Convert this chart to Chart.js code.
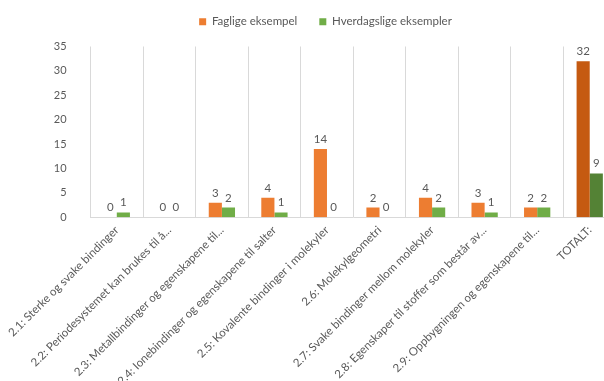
<!DOCTYPE html>
<html>
<head>
<meta charset="utf-8">
<script src="https://cdn.jsdelivr.net/npm/chart.js@4.4.1/dist/chart.umd.min.js"></script>
<style>
  html, body { margin: 0; padding: 0; background: #fff; overflow: hidden; }
</style>
</head>
<body>
<canvas id="myChart" width="622" height="394"></canvas>
<script>
const categories = [
  '2.1: Sterke og svake bindinger',
  '2.2: Periodesystemet kan brukes til å...',
  '2.3: Metallbindinger og egenskapene til...',
  '2.4: Ionebindinger og egenskapene til salter',
  '2.5: Kovalente bindinger i molekyler',
  '2.6: Molekylgeometri',
  '2.7: Svake bindinger mellom molekyler',
  '2.8: Egenskaper til stoffer som består av...',
  '2.9: Oppbygningen og egenskapene til...',
  'TOTALT:'
];
const faglige = [0, 0, 3, 4, 14, 2, 4, 3, 2, 32];
const hverdagslige = [1, 0, 2, 1, 0, 0, 2, 1, 2, 9];
const yMax = 35;
const yStep = 5;

const FONT = 'Lato';
const GREY = '#595959';

// last column (the total) gets a darker shade
function shades(base, dark) {
  return categories.map((c, i) => i === categories.length - 1 ? dark : base);
}

// numbers above each bar
const valueLabels = {
  id: 'valueLabels',
  afterDatasetsDraw(chart) {
    let ctx = chart.ctx;
    ctx.save();
    ctx.font = '11.5px ' + FONT;
    ctx.fillStyle = GREY;
    ctx.textAlign = 'center';
    ctx.textBaseline = 'bottom';
    chart.data.datasets.forEach((ds, i) => {
      chart.getDatasetMeta(i).data.forEach((bar, j) => {
        ctx.fillText(ds.data[j], bar.x, bar.y - 4);
      });
    });
    ctx.restore();
  }
};

// more room under the legend
const legendGap = {
  id: 'legendGap',
  beforeInit(chart) {
    const fit = chart.legend.fit;
    chart.legend.fit = function () {
      fit.bind(chart.legend)();
      this.height += 9;
    };
  }
};

let ctx = document.getElementById('myChart').getContext('2d');

let myChart = new Chart(ctx, {
  type: 'bar',
  data: {
    labels: categories,
    datasets: [{
      label: 'Faglige eksempel',
      data: faglige,
      backgroundColor: shades('#ED7D31', '#C55A11'),
      barPercentage: 1,
      categoryPercentage: 0.5
    }, {
      label: 'Hverdagslige eksempler',
      data: hverdagslige,
      backgroundColor: shades('#70AD47', '#548235'),
      barPercentage: 1,
      categoryPercentage: 0.5
    }]
  },
  options: {
    responsive: false,
    animation: false,
    layout: { padding: { left: 35, right: 6, top: -6 } },
    plugins: {
      tooltip: { enabled: false },
      legend: {
        position: 'top',
        labels: {
          boxWidth: 7,
          boxHeight: 7,
          color: GREY,
          font: { family: FONT, size: 11.5 },
          padding: 22,
          generateLabels(chart) {
            return chart.data.datasets.map((ds, i) => ({
              text: ds.label,
              fillStyle: ds.backgroundColor[0],
              strokeStyle: ds.backgroundColor[0],
              lineWidth: 0,
              fontColor: GREY,
              datasetIndex: i
            }));
          }
        }
      }
    },
    scales: {
      x: {
        grid: { offset: true, color: '#d9d9d9', drawTicks: false },
        border: { color: '#d9d9d9' },
        ticks: {
          color: GREY,
          font: { family: FONT, size: 11.5 },
          minRotation: 45,
          maxRotation: 45,
          autoSkip: false,
          padding: 6
        }
      },
      y: {
        min: 0,
        max: yMax,
        grid: { display: false },
        border: { display: false },
        ticks: {
          stepSize: yStep,
          color: GREY,
          font: { family: FONT, size: 11 },
          padding: 16
        }
      }
    }
  },
  plugins: [valueLabels, legendGap]
});
</script>
</body>
</html>
